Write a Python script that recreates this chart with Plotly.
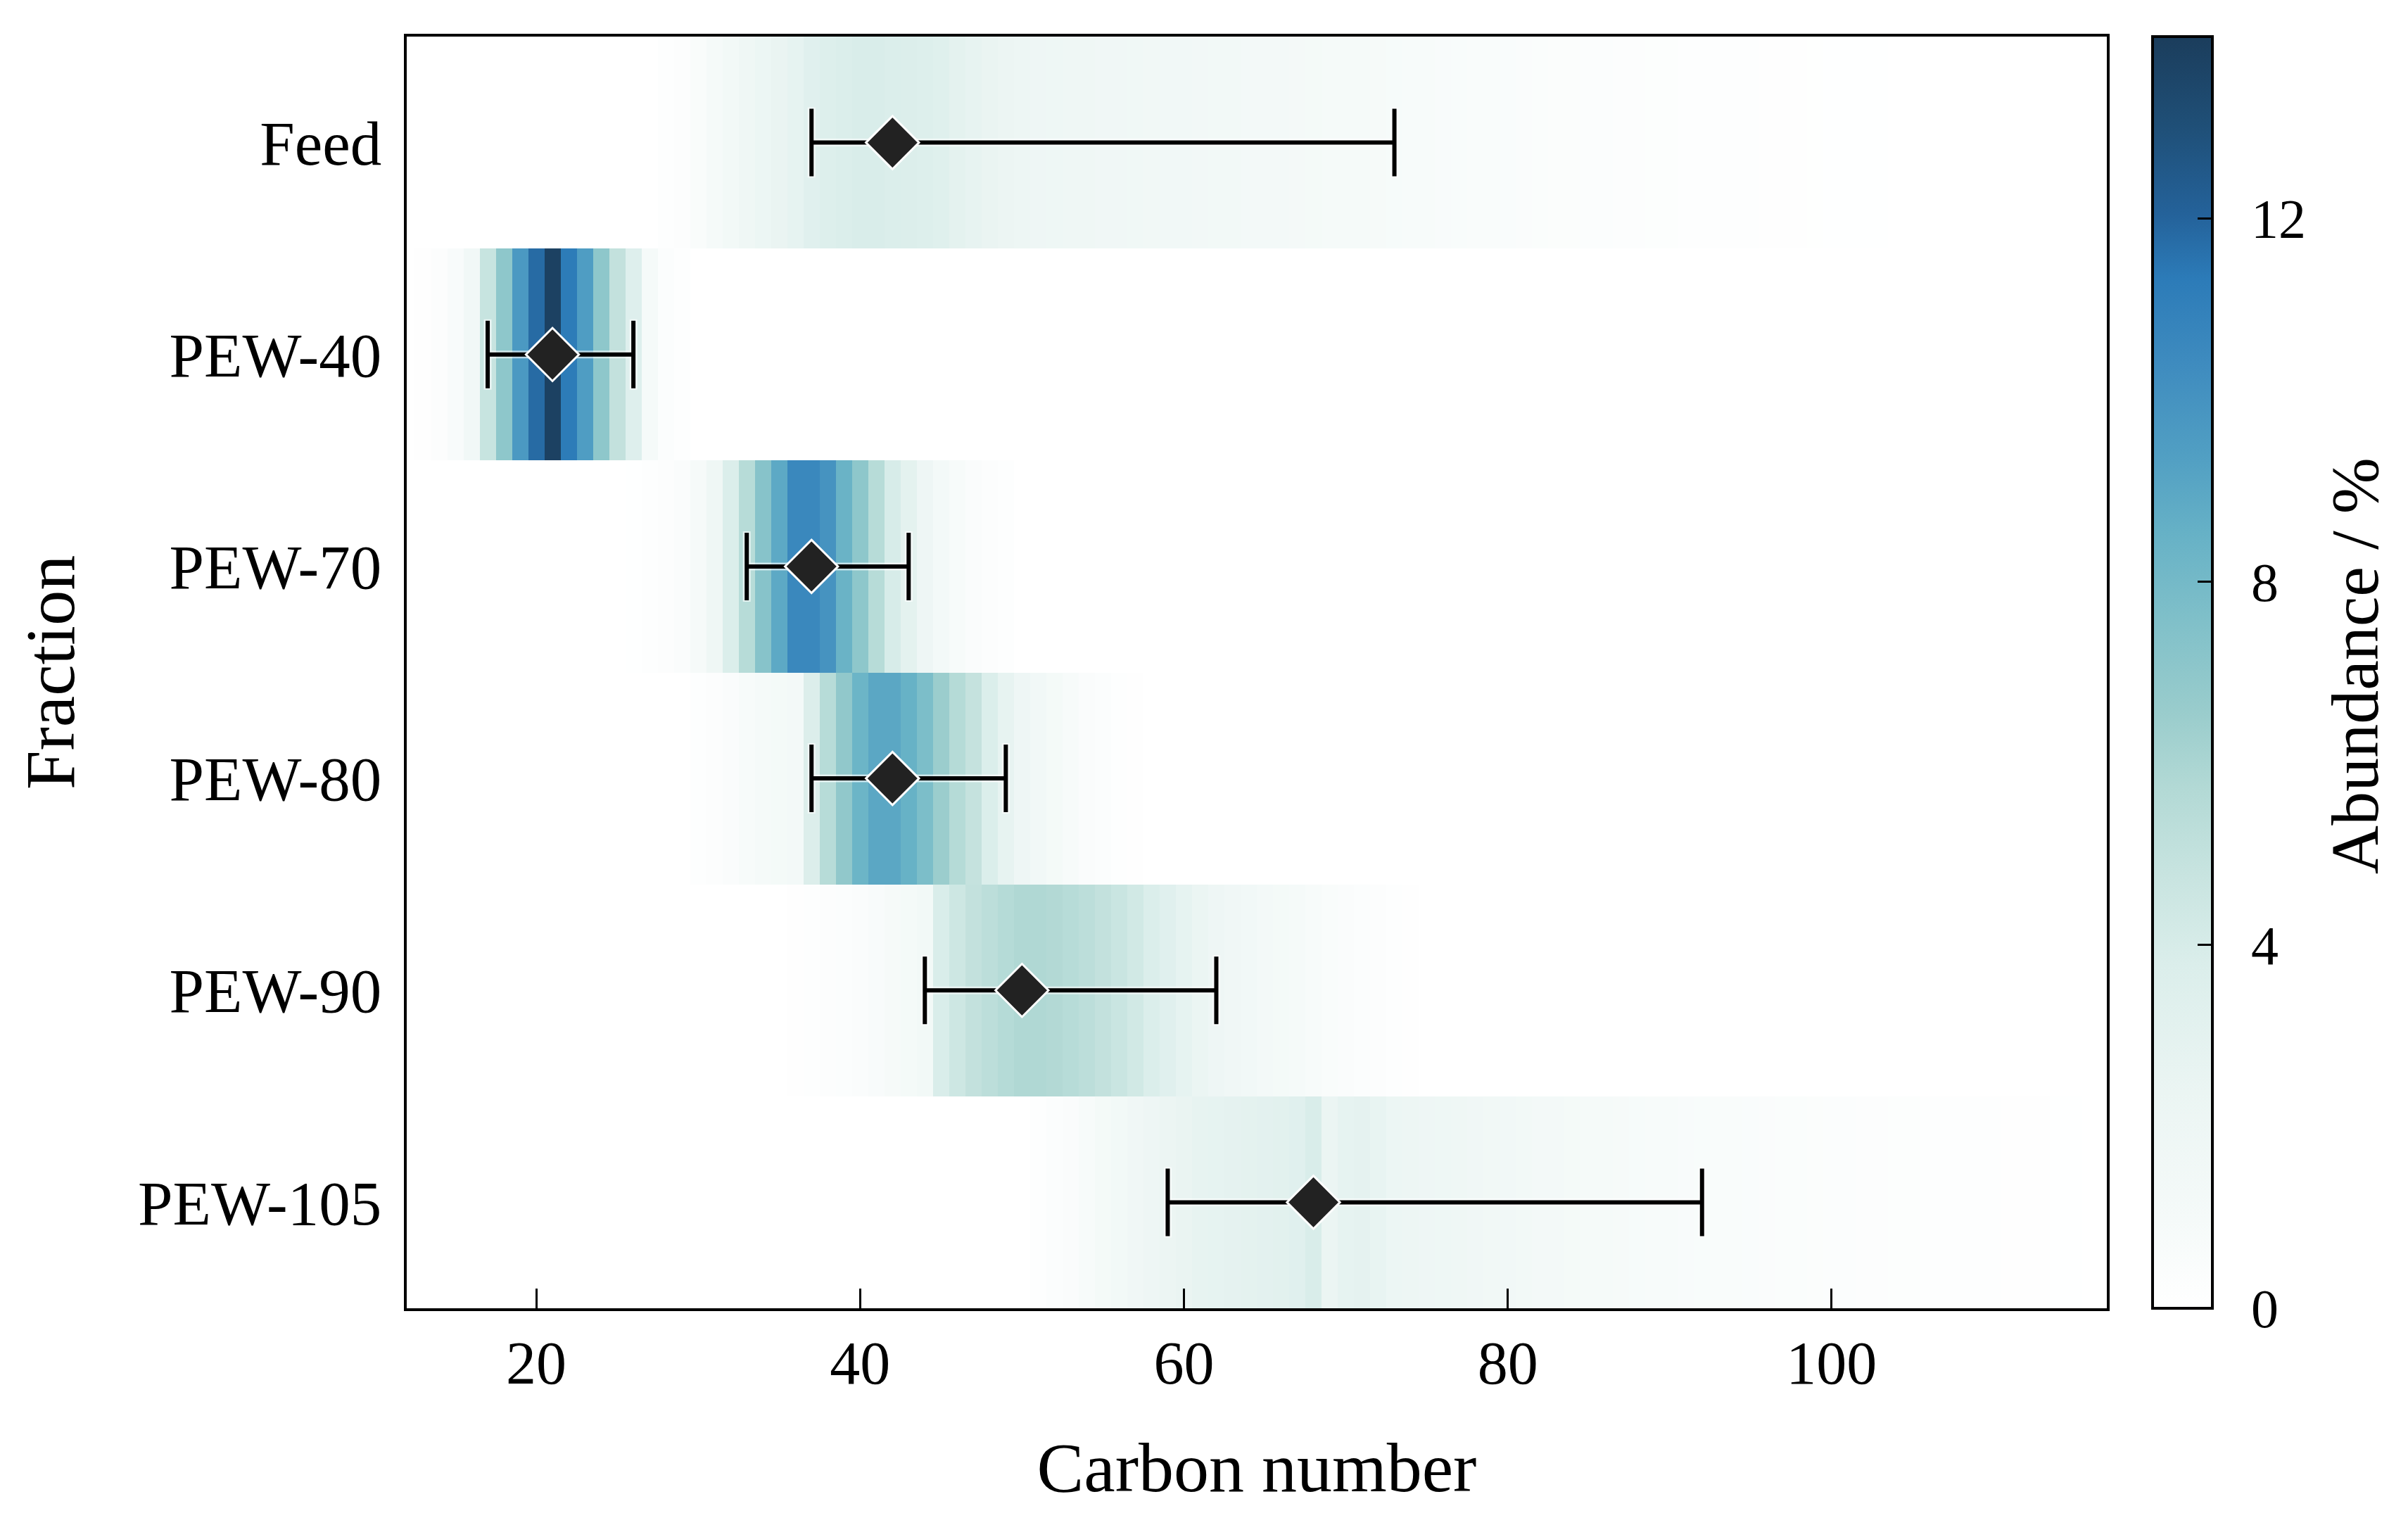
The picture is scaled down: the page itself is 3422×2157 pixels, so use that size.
import plotly.graph_objects as go

# fractions (rows, top to bottom) and summary stats in carbon number
fractions = ['Feed', 'PEW-40', 'PEW-70', 'PEW-80', 'PEW-90', 'PEW-105']
mean_cn = [42, 21, 37, 42, 50, 68]
low_cn = [37, 17, 33, 37, 44, 59]
high_cn = [73, 26, 43, 49, 62, 92]

# abundance (%) per carbon number, each list starts at its *_start carbon number
feed_start = 28
feed_abund = [0.15, 0.3, 0.6, 1.0, 1.4, 1.8, 2.2, 2.5, 2.8, 3.3, 3.6, 3.8, 3.9, 3.9,
              3.8, 3.7, 3.6, 3.4, 3.0, 2.7, 2.5, 2.3, 2.1, 2.0, 1.9, 1.85, 1.8, 1.75,
              1.7, 1.65, 1.6, 1.55, 1.5, 1.45, 1.4, 1.35, 1.3, 1.25, 1.2, 1.15, 1.1,
              1.05, 1.0, 0.95, 0.9, 0.85, 0.8, 0.75, 0.7, 0.66, 0.62, 0.58, 0.54, 0.5,
              0.47, 0.44, 0.41, 0.38, 0.35, 0.32, 0.3, 0.28, 0.26, 0.24, 0.22, 0.2,
              0.18, 0.16, 0.14, 0.12, 0.1, 0.09, 0.08, 0.07, 0.06, 0.05]

pew40_start = 13
pew40_abund = [0.1, 0.3, 0.7, 1.5, 4.8, 7.0, 9.7, 11.8, 13.8, 11.3, 9.5, 7.0, 5.0,
               3.5, 1.0, 0.4, 0.15]

pew70_start = 26
pew70_abund = [0.08, 0.15, 0.3, 0.5, 0.9, 1.8, 3.8, 5.5, 7.3, 8.9, 10.6, 10.6, 10.0,
               8.4, 7.0, 5.5, 4.0, 3.0, 2.0, 1.3, 0.8, 0.5, 0.3, 0.15]

pew80_start = 30
pew80_abund = [0.15, 0.3, 0.5, 0.8, 1.0, 1.1, 1.3, 3.7, 5.5, 6.9, 8.3, 9.0, 9.0, 8.5,
               7.7, 6.5, 5.6, 4.9, 3.8, 2.7, 2.0, 1.5, 1.1, 0.8, 0.5, 0.35, 0.2, 0.1]

pew90_start = 36
pew90_abund = [0.1, 0.2, 0.3, 0.4, 0.5, 0.7, 0.9, 1.1, 1.4, 3.9, 4.5, 5.0, 5.3, 5.6,
               5.8, 5.8, 5.7, 5.5, 5.3, 5.0, 4.7, 4.3, 3.8, 3.3, 2.8, 2.4, 2.0, 1.7,
               1.5, 1.3, 1.1, 1.0, 0.8, 0.6, 0.5, 0.4, 0.3, 0.2, 0.1]

pew105_start = 51
pew105_abund = [0.2, 0.35, 0.5, 0.8, 1.1, 1.4, 1.7, 2.0, 2.3, 2.5, 2.7, 2.8, 2.9, 3.0,
                3.1, 3.2, 3.3, 3.9, 2.4, 2.8, 2.9, 2.6, 2.2, 2.1, 2.0, 1.9, 1.8, 1.7,
                1.6, 1.5, 1.4, 1.3, 1.2, 1.1, 1.0, 0.95, 0.9, 0.85, 0.8, 0.75, 0.7,
                0.66, 0.62, 0.58, 0.55, 0.52, 0.49, 0.46, 0.43, 0.4, 0.37, 0.34, 0.31,
                0.28, 0.26, 0.24, 0.22, 0.2, 0.18, 0.16, 0.14, 0.12, 0.1, 0.08, 0.06]

cbar_ticks = [0, 4, 8, 12]

carbon = list(range(13, 117))


def row(start, vals):
    r = [0.0] * len(carbon)
    for i, v in enumerate(vals):
        r[start + i - carbon[0]] = v
    return r


z = [row(feed_start, feed_abund), row(pew40_start, pew40_abund),
     row(pew70_start, pew70_abund), row(pew80_start, pew80_abund),
     row(pew90_start, pew90_abund), row(pew105_start, pew105_abund)]

cscale = [[0, '#ffffff'], [0.07, '#f5faf9'], [0.17, '#ebf5f3'], [0.27, '#dbeeeb'],
          [0.34, '#c8e4e0'], [0.41, '#b2d9d5'], [0.47, '#99cccc'], [0.54, '#80c0c9'],
          [0.61, '#66b1c6'], [0.67, '#519fc3'], [0.74, '#3f8cbf'], [0.81, '#2c7bb8'],
          [0.86, '#24629a'], [0.93, '#1f4f77'], [1, '#1b3d5c']]

FONT = 'Liberation Serif'
cb_geom = dict(thickness=85, len=1, lenmode='fraction', y=0.5, yanchor='middle',
               x=1.027, xanchor='left', xpad=0, ypad=0)

fig = go.Figure()

fig.add_trace(go.Heatmap(
    x=carbon, y=fractions, z=z, zmin=0, zmax=14, colorscale=cscale,
    colorbar=dict(tickvals=cbar_ticks, ticks='inside', ticklen=23, tickwidth=3,
                  tickcolor='black', showticklabels=False,
                  outlinewidth=4, outlinecolor='black', **cb_geom),
))

err_plus = [h - m for h, m in zip(high_cn, mean_cn)]
err_minus = [m - l for m, l in zip(mean_cn, low_cn)]

# faint white halo under the error bars
fig.add_trace(go.Scatter(
    x=mean_cn, y=fractions, mode='markers', marker=dict(size=1, opacity=0),
    error_x=dict(type='data', symmetric=False, array=err_plus, arrayminus=err_minus,
                 color='rgba(255,255,255,0.6)', thickness=11, width=50),
    showlegend=False, hoverinfo='skip',
))

fig.add_trace(go.Scatter(
    x=mean_cn, y=fractions, mode='markers',
    marker=dict(symbol='diamond', size=58, color='#222222',
                line=dict(color='white', width=3)),
    error_x=dict(type='data', symmetric=False, array=err_plus, arrayminus=err_minus,
                 color='black', thickness=6, width=48),
    showlegend=False,
))

# transparent second colour bar that only carries the tick labels,
# set further out from the bar than plotly's default
fig.add_trace(go.Scatter(
    x=[None], y=[None], mode='markers', showlegend=False, hoverinfo='skip',
    marker=dict(color=[0], cmin=0, cmax=14, showscale=True,
                colorscale=[[0, 'rgba(0,0,0,0)'], [1, 'rgba(0,0,0,0)']],
                colorbar=dict(tickvals=cbar_ticks, ticks='outside', ticklen=40,
                              tickcolor='rgba(0,0,0,0)',
                              tickfont=dict(size=78, family=FONT),
                              outlinewidth=0, **cb_geom)),
))

fig.add_annotation(
    text='Abundance / %', textangle=-90, showarrow=False,
    xref='paper', yref='paper', x=1.146, y=0.505, xanchor='center', yanchor='middle',
    font=dict(size=96, family=FONT, color='black'),
)

fig.update_layout(
    width=3422, height=2157,
    margin=dict(l=570, r=436, t=44, b=306),
    plot_bgcolor='white', paper_bgcolor='white',
    font=dict(family=FONT, color='black'),
    xaxis=dict(
        type='linear', range=[12, 117], tickvals=[20, 40, 60, 80, 100],
        ticks='inside', ticklen=28, tickwidth=3, tickcolor='black',
        showline=True, linewidth=4, linecolor='black', mirror=True,
        showgrid=False, zeroline=False, tickfont=dict(size=86),
        title=dict(text='Carbon number', font=dict(size=100), standoff=66),
    ),
    yaxis=dict(
        type='category', categoryorder='array', categoryarray=fractions,
        autorange='reversed',
        ticks='', showline=True, linewidth=4, linecolor='black', mirror=True,
        showgrid=False, zeroline=False, tickfont=dict(size=89), ticklabelstandoff=14,
        title=dict(text='Fraction', font=dict(size=100), standoff=58),
    ),
)

fig.write_html('out.html')
